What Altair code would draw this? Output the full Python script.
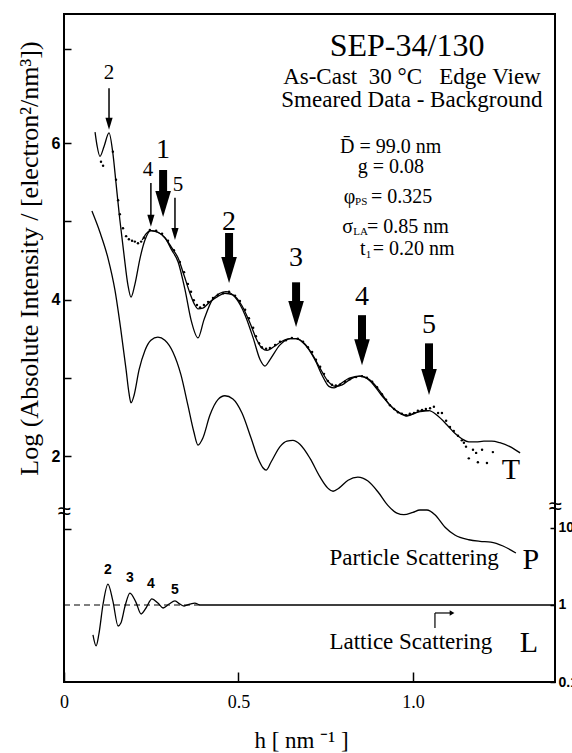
import altair as alt
import pandas as pd

# ---------------- data ----------------
# h in nm^-1 ; upper curves: log(absolute intensity)
M_h = [0.089,0.095,0.103,0.115,0.129,0.140,0.149,0.160,0.172,0.183,0.192,0.203,0.218,0.232,0.249,0.269,0.289,0.309,0.327,0.347,0.364,0.384,0.401,0.424,0.447,0.464,0.490,0.519,0.542,0.562,0.576,0.590,0.619,0.648,0.665,0.691,0.719,0.742,0.759,0.774,0.791,0.820,0.848,0.877,0.911,0.948,0.983,1.014,1.046]
M_v = [6.14,5.96,5.83,5.96,6.13,5.87,5.49,5.02,4.57,4.19,4.03,4.19,4.53,4.76,4.88,4.86,4.79,4.63,4.48,4.12,3.74,3.51,3.74,3.99,4.08,4.10,4.03,3.80,3.51,3.23,3.15,3.23,3.42,3.50,3.50,3.42,3.23,3.01,2.89,2.87,2.92,3.00,3.02,2.96,2.77,2.59,2.51,2.56,2.58]

T_h = [0.224,0.235,0.249,0.269,0.289,0.309,0.327,0.344,0.361,0.375,0.384,0.398,0.418,0.441,0.461,0.484,0.510,0.533,0.553,0.567,0.582,0.599,0.622,0.648,0.665,0.691,0.713,0.734,0.754,0.777,0.797,0.820,0.848,0.877,0.905,0.934,0.963,0.983,1.006,1.026,1.046,1.069,1.097,1.120,1.140,1.160,1.181,1.203,1.226,1.249,1.278,1.307]
T_v = [4.76,4.84,4.88,4.86,4.79,4.66,4.53,4.31,4.08,3.93,3.88,3.89,3.97,4.04,4.08,4.06,3.92,3.70,3.48,3.38,3.35,3.39,3.46,3.50,3.50,3.43,3.29,3.12,2.97,2.89,2.91,2.98,3.02,2.97,2.83,2.65,2.55,2.52,2.55,2.58,2.58,2.52,2.40,2.29,2.22,2.18,2.18,2.19,2.19,2.17,2.12,2.04]

P_h = [0.080,0.103,0.126,0.146,0.163,0.178,0.186,0.192,0.201,0.215,0.232,0.249,0.269,0.289,0.312,0.335,0.355,0.372,0.384,0.398,0.418,0.441,0.461,0.484,0.510,0.536,0.556,0.570,0.579,0.593,0.619,0.639,0.656,0.676,0.705,0.734,0.756,0.771,0.788,0.814,0.842,0.871,0.900,0.928,0.954,0.974,1.000,1.020,1.040,1.063,1.092,1.120,1.160,1.192,1.223,1.258,1.295]
P_v = [5.13,4.86,4.53,4.12,3.61,3.10,2.81,2.68,2.78,3.10,3.35,3.48,3.52,3.48,3.33,3.04,2.65,2.31,2.14,2.23,2.52,2.72,2.77,2.73,2.55,2.23,1.97,1.85,1.82,1.92,2.12,2.19,2.20,2.15,1.97,1.73,1.59,1.55,1.59,1.69,1.73,1.68,1.54,1.37,1.27,1.25,1.28,1.31,1.31,1.25,1.09,0.99,0.93,0.91,0.90,0.85,0.76]

DOT_h = [0.106,0.112,0.140,0.149,0.155,0.160,0.169,0.178,0.186,0.195,
         0.203,0.212,0.221,0.229,0.246,0.264,0.281,0.298,0.315,0.332,
         0.344,0.355,0.364,0.372,0.381,0.390,0.401,0.413,0.427,0.441,
         0.456,0.473,0.490,0.504,0.519,0.530,0.542,0.550,0.559,0.567,
         0.579,0.590,0.605,0.619,0.636,0.653,0.670,0.685,0.699,0.711,
         0.722,0.734,0.745,0.756,0.768,0.779,0.791,0.805,0.819,0.837,
         0.854,0.868,0.883,0.897,0.911,0.923,0.934,0.946,0.957,0.968,
         0.980,0.991,1.003,1.014,1.026,1.037,1.049,1.060,1.072,1.083,
         1.095,1.106,1.117,1.129,1.140,1.146,1.152,1.160,1.172,1.181,
         1.186,1.198,1.212,1.229]
DOT_v = [5.76,5.71,5.89,5.53,5.27,5.09,4.91,4.81,4.77,4.75,
         4.74,4.72,4.74,4.79,4.89,4.88,4.84,4.75,4.63,4.48,
         4.35,4.20,4.10,3.99,3.93,3.90,3.93,3.97,4.02,4.06,
         4.08,4.10,4.05,3.98,3.87,3.76,3.64,3.53,3.44,3.39,
         3.37,3.38,3.42,3.46,3.48,3.51,3.50,3.46,3.39,3.33,
         3.23,3.14,3.05,2.96,2.91,2.90,2.91,2.95,2.98,3.01,
         3.02,3.00,2.95,2.88,2.79,2.72,2.65,2.60,2.56,2.54,
         2.52,2.54,2.55,2.58,2.59,2.60,2.61,2.63,2.55,2.55,
         2.45,2.37,2.32,2.26,2.20,2.17,2.12,1.97,2.08,2.04,
         1.92,2.08,1.91,2.05]

# lattice scattering (ratio, log axis on the right)
L_h = [0.083,0.092,0.100,0.112,0.126,0.140,0.155,0.163,0.175,0.189,0.206,0.221,0.235,0.252,0.269,0.284,0.301,0.318,0.332,0.344,0.361,0.375,0.390,0.476,1.407]
L_val = [0.408,0.294,0.420,1.03,1.87,1.13,0.534,0.583,0.97,1.43,1.09,0.764,0.914,1.20,1.06,0.914,1.03,1.13,1.03,0.97,1.03,1.06,1.00,1.00,1.00]

# arrows (order labels)
BIG_lab = ["1", "2", "3", "4", "5"]
BIG_h = [0.284, 0.473, 0.665, 0.854, 1.046]
BIG_labv = [5.91, 4.99, 4.53, 4.03, 3.67]
BIG_top = [5.655, 4.85, 4.22, 3.80, 3.44]
BIG_tip = [5.054, 4.21, 3.65, 3.16, 2.78]

SM_lab = ["2", "4", "5"]
SM_h = [0.129, 0.249, 0.318]
SM_labh = [0.129, 0.241, 0.327]
SM_labv = [6.89, 5.655, 5.46]
SM_top = [6.70, 5.49, 5.30]
SM_tip = [6.17, 4.93, 4.76]

L_lab = ["2", "3", "4", "5"]
L_lab_h = [0.126, 0.189, 0.249, 0.318]
L_lab_v = [2.85, 2.24, 1.87, 1.57]

XMAX = 1.407
SERIF = "Liberation Serif"
SANS = "Liberation Sans"
NB = "\u00a0"

x_axis = alt.Axis(values=[0, 0.5, 1.0],
                  labelExpr="datum.value == 0 ? '0' : (datum.value < 0.7 ? '0.5' : '1.0')",
                  tickSize=10, offset=-10, domain=False, grid=False,
                  labelFont=SERIF, labelFontSize=18, labelPadding=11, labelFlush=False,
                  labelColor="black", tickColor="black", tickWidth=1.5,
                  title="h [ nm ⁻¹ ]", titleFont=SERIF, titleFontSize=23,
                  titleFontWeight="normal", titleColor="black",
                  titleAlign="center", titleBaseline="middle", titleX=237, titleY=68)

y_axis = alt.Axis(values=[1.067, 2, 3, 4, 5, 6, 7.2], orient="left",
                  labelExpr="datum.value == 2 ? '2' : datum.value == 4 ? '4' : datum.value == 6 ? '6' : ''",
                  tickSize=7, offset=-7, domain=False, grid=False,
                  labelFont=SANS, labelFontWeight="bold", labelFontSize=16, labelPadding=4,
                  labelColor="black", tickColor="black", tickWidth=1.5,
                  title="Log (Absolute Intensity / [electron²/nm³])",
                  titleFont=SERIF, titleFontSize=26, titleFontWeight="normal",
                  titleColor="black", titleAngle=270, titleAlign="center",
                  titleBaseline="middle", titleX=-42, titleY=244)

r_axis = alt.Axis(values=[0.1, 1, 10], orient="right",
                  labelExpr="datum.value < 0.5 ? '0.1' : datum.value < 5 ? '1' : '10'",
                  tickSize=5, offset=-5, domain=False, grid=False,
                  labelFont=SANS, labelFontWeight="bold", labelFontSize=14, labelPadding=3,
                  labelColor="black", tickColor="black", tickWidth=1.5, title=None)


def xs():
    return alt.Scale(domain=[0, XMAX], nice=False, zero=False)


def ys():
    return alt.Scale(domain=[-0.888, 7.649], nice=False, zero=False)


def yl():
    return alt.Scale(type="log", domain=[0.1, 4.73e7], nice=False)


def X(f="h"):
    return alt.X(f"{f}:Q", scale=xs(), axis=x_axis)


def Y(f="v"):
    return alt.Y(f"{f}:Q", scale=ys(), axis=None)


def YL(f="L"):
    return alt.Y(f"{f}:Q", scale=yl(), axis=None)


curves = pd.concat([
    pd.DataFrame({"h": M_h, "v": M_v, "s": "M"}),
    pd.DataFrame({"h": T_h, "v": T_v, "s": "T"}),
    pd.DataFrame({"h": P_h, "v": P_v, "s": "P"}),
])

lines = alt.Chart(curves).mark_line(color="black", strokeWidth=1.3, interpolate="monotone").encode(
    x=X(),
    y=alt.Y("v:Q", scale=ys(), axis=y_axis),
    detail="s:N",
)

dots = alt.Chart(pd.DataFrame({"h": DOT_h, "v": DOT_v})).mark_circle(
    size=6, color="black", opacity=1).encode(x=X(), y=Y())

HEAD_BIG = 0.30
HEAD_SM = 0.10
big = pd.DataFrame({"lab": BIG_lab, "h": BIG_h, "labv": BIG_labv, "top": BIG_top, "tip": BIG_tip})
big["end"] = big["tip"] + HEAD_BIG
sm = pd.DataFrame({"lab": SM_lab, "h": SM_h, "labh": SM_labh, "labv": SM_labv, "top": SM_top, "tip": SM_tip})
sm["end"] = sm["tip"] + HEAD_SM

ARROW = "M-0.6,-2L0.6,-2L0,0Z"
big_shaft = alt.Chart(big).mark_rule(color="black", strokeWidth=8).encode(x=X(), y=Y("top"), y2="end:Q")
big_head = alt.Chart(big).mark_point(shape=ARROW, size=676, filled=True, color="black", opacity=1, strokeWidth=0).encode(x=X(), y=Y("tip"))
big_lab = alt.Chart(big).mark_text(font=SERIF, fontSize=28, color="black", baseline="middle").encode(x=X(), y=Y("labv"), text="lab:N")

sm_shaft = alt.Chart(sm).mark_rule(color="black", strokeWidth=1.5).encode(x=X(), y=Y("top"), y2="end:Q")
sm_head = alt.Chart(sm).mark_point(shape=ARROW, size=144, filled=True, color="black", opacity=1, strokeWidth=0).encode(x=X(), y=Y("tip"))
sm_lab = alt.Chart(sm).mark_text(font=SERIF, fontSize=21, color="black", baseline="middle").encode(x=X("labh"), y=Y("labv"), text="lab:N")

# header texts
title_df = pd.DataFrame({"t": ["SEP-34/130"], "h": [0.983], "v": [7.24]})
title_txt = alt.Chart(title_df).mark_text(font=SERIF, fontSize=32, color="black", baseline="middle").encode(x=X(), y=Y(), text="t:N")

head_df = pd.DataFrame({"t": ["As-Cast" + NB * 2 + "30" + NB + "°C" + NB * 3 + "Edge" + NB + "View",
                              "Smeared Data - Background"],
                        "h": [0.997, 0.997], "v": [6.85, 6.55]})
head_txt = alt.Chart(head_df).mark_text(font=SERIF, fontSize=23, color="black", baseline="middle").encode(x=X(), y=Y(), text="t:N")

par_df = pd.DataFrame({
    "t": ["D\u0304 = 99.0 nm", "g = 0.08", "φ", "= 0.325", "σ", "= 0.85 nm", "t", "= 0.20 nm"],
    "h": [0.791, 0.842, 0.802, 0.880, 0.797, 0.868, 0.848, 0.885],
    "v": [5.95, 5.69, 5.31, 5.31, 4.93, 4.93, 4.64, 4.64]})
par_txt = alt.Chart(par_df).mark_text(font=SERIF, fontSize=20, color="black", baseline="middle", align="left").encode(x=X(), y=Y(), text="t:N")

sub_df = pd.DataFrame({"t": ["PS", "LA", "1"], "h": [0.834, 0.829, 0.865], "v": [5.24, 4.86, 4.57]})
sub_txt = alt.Chart(sub_df).mark_text(font=SERIF, fontSize=11, color="black", baseline="middle", align="left").encode(x=X(), y=Y(), text="t:N")

letters_df = pd.DataFrame({"t": ["T", "P", "L"], "h": [1.281, 1.338, 1.332], "v": [1.82, 0.671, -0.39]})
letters = alt.Chart(letters_df).mark_text(font=SERIF, fontSize=30, color="black", baseline="middle").encode(x=X(), y=Y(), text="t:N")

scat_df = pd.DataFrame({"t": ["Particle Scattering", "Lattice Scattering"], "h": [1.003, 0.994], "v": [0.696, -0.377]})
scat = alt.Chart(scat_df).mark_text(font=SERIF, fontSize=23, color="black", baseline="middle").encode(x=X(), y=Y(), text="t:N")

brk_df = pd.DataFrame({"t": ["≈", "≈"], "h": [0, XMAX], "v": [1.284, 1.348]})
brk = alt.Chart(brk_df).mark_text(font=SANS, fontSize=24, color="black", baseline="middle").encode(x=X(), y=Y(), text="t:N")

# small bent pointer near "Lattice Scattering"
bend_v = pd.DataFrame({"h": [1.063], "v": [-0.198], "v2": [-0.006]})
bend_vr = alt.Chart(bend_v).mark_rule(color="black", strokeWidth=1.2).encode(x=X(), y=Y(), y2="v2:Q")
bend_h = pd.DataFrame({"h": [1.063], "h2": [1.108], "v": [-0.006]})
bend_hr = alt.Chart(bend_h).mark_rule(color="black", strokeWidth=1.2).encode(x=X(), x2="h2:Q", y=Y())
bend_head = alt.Chart(pd.DataFrame({"h": [1.112], "v": [-0.006]})).mark_point(
    shape="triangle-right", size=30, filled=True, color="black", opacity=1).encode(x=X(), y=Y())

# lower panel (lattice scattering, log scale on the right)
Ldf = pd.DataFrame({"h": L_h, "L": L_val})
L_line = alt.Chart(Ldf).mark_line(color="black", strokeWidth=1.3, interpolate="monotone").encode(
    x=X(),
    y=alt.Y("L:Q", scale=yl(), axis=r_axis),
)
base_df = pd.DataFrame({"h": [0.0], "h2": [0.40], "L": [1.0]})
L_base = alt.Chart(base_df).mark_rule(color="black", strokeWidth=1.2, strokeDash=[6, 4]).encode(
    x=X(), x2="h2:Q", y=YL())
Llab_df = pd.DataFrame({"t": L_lab, "h": L_lab_h, "L": L_lab_v})
L_labels = alt.Chart(Llab_df).mark_text(font=SANS, fontWeight="bold", fontSize=14, color="black", baseline="middle").encode(
    x=X(), y=YL(), text="t:N")

chart = alt.layer(
    lines, L_line, dots, big_shaft, big_head, big_lab, sm_shaft, sm_head, sm_lab,
    title_txt, head_txt, par_txt, sub_txt, letters, scat, brk,
    bend_vr, bend_hr, bend_head, L_base, L_labels,
).resolve_scale(y="independent").properties(
    width=491, height=668,
    autosize="none",
    padding={"left": 64, "top": 14, "right": 17, "bottom": 71},
    background="white",
).configure_view(stroke="black", strokeWidth=2)

chart.save("out.html", embed_options={"renderer": "svg", "actions": False})
